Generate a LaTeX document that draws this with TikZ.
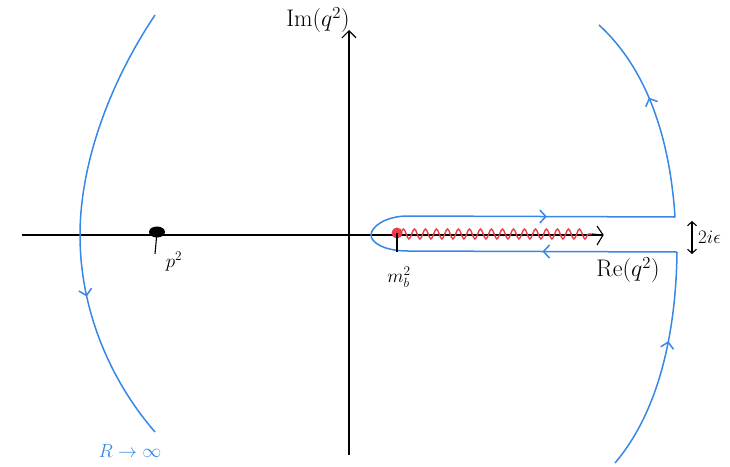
\RequirePackage{fix-cm}
\documentclass[tikz,border=0pt]{standalone}
\usetikzlibrary{arrows.meta,decorations.markings,decorations.pathmorphing,shapes.geometric}
\definecolor{cblue}{RGB}{55,135,230}
\definecolor{cred}{RGB}{235,60,70}
\tikzset{
  axisline/.style={draw=black, line width=1.1pt},
  contour/.style={draw=cblue, line width=1.5pt},
  midarrow/.style={postaction={decorate}, decoration={markings, mark=at position #1 with {\arrow[cblue,line width=1.5pt]{Straight Barb[length=6pt,width=13pt]}}}},
  lbl/.style={font=\fontsize{19}{22}\selectfont, inner sep=1pt},
  biglbl/.style={font=\fontsize{24}{28}\selectfont, inner sep=1pt},
  blbl/.style={lbl, text=cblue},
}
\begin{document}
\begin{tikzpicture}[x=1pt,y=-1pt]
\useasboundingbox (0,0) rectangle (730,466);
% axes
\coordinate (xl) at (22,235);
\coordinate (xr) at (603,235);
\coordinate (yb) at (349,455);
\coordinate (yt) at (349,30);
\draw[axisline] (xl) -- (xr);
\draw[axisline, -{Straight Barb[length=7pt,width=14pt]}] (yb) -- (yt);
% branch cut
\draw[cred, line width=1.4pt, decorate, decoration={snake, amplitude=5pt, segment length=11pt}] (400,234) -- (592,234);
\draw[axisline] (592,234) -- (603,235);
\draw[axisline] (597,226) -- (603,235) -- (597,245);
% contour
\coordinate (rtT) at (599,25);
\coordinate (rtC) at (675,217);
\coordinate (rbC) at (677,252);
\coordinate (rbB) at (615,463);
\coordinate (kt) at (408,216);
\coordinate (kb) at (408,251);
\coordinate (tip) at (371,235);
\draw[contour, midarrow=0.6] (rbB) .. controls (660,410) and (676,330) .. (rbC);
\draw[contour, midarrow=0.5] (rbC) -- (kb);
\draw[contour] (kb) .. controls (385,251) and (371,243) .. (tip) .. controls (371,227) and (385,216) .. (kt);
\draw[contour, midarrow=0.52] (kt) -- (rtC);
\draw[contour, midarrow=0.58] (rtC) .. controls (670,140) and (648,70) .. (rtT);
% left arc
\coordinate (laT) at (155,15);
\coordinate (laM) at (80,235);
\coordinate (laB) at (155,432);
\draw[contour, midarrow=0.66] (laT) .. controls (105,90) and (80,170) .. (laM) .. controls (80,310) and (110,380) .. (laB);
% points
\node[fill=black, ellipse, inner sep=0pt, minimum width=16pt, minimum height=11pt] (pp) at (157,232) {};
\draw[axisline] (pp.center) -- (155,254);
\node[lbl] (pplbl) at (174,262) {$p^2$};
\node[fill=cred, circle, inner sep=0pt, minimum size=11pt] (mb) at (397,233) {};
\draw[axisline] (mb.center) -- (397,252);
\node[lbl] (mblbl) at (399,277) {$m_b^2$};
% labels
\node[biglbl] (imlbl) at (318,20) {$\mathrm{Im}(q^2)$};
\node[biglbl] (relbl) at (628,270) {$\mathrm{Re}(q^2)$};
\coordinate (eT) at (692,221);
\coordinate (eB) at (692,254);
\draw[axisline, {Straight Barb[length=4pt,width=9pt]}-{Straight Barb[length=4pt,width=9pt]}] (eT) -- (eB);
\node[lbl, anchor=west] (eps) at (697,237) {$2i\epsilon$};
\node[blbl] (rinf) at (130,451) {$R\to\infty$};
\end{tikzpicture}
\end{document}
